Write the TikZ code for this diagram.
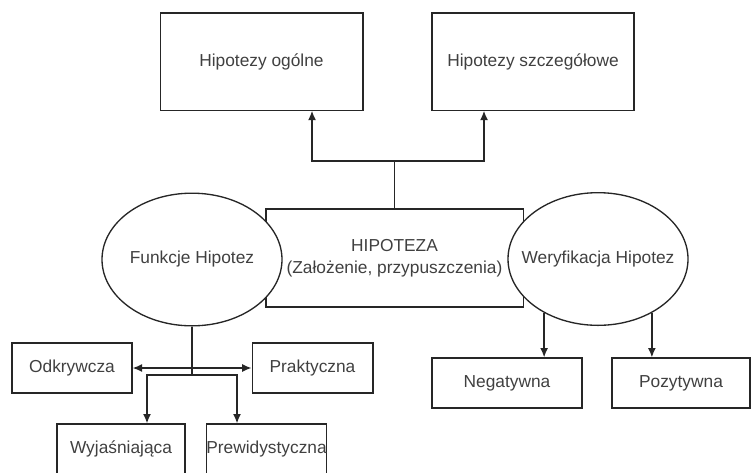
\documentclass[tikz,border=0pt]{standalone}
\usepackage{fontspec}
\setmainfont{Liberation Sans}
\usetikzlibrary{shapes.geometric,arrows.meta}

\begin{document}
\begin{tikzpicture}
  [x=0.75pt,y=-0.75pt,line width=1pt]
      \tikzstyle{box_style} = [draw=black!85, rectangle, inner sep=0pt, text=black!75, font=\fontsize{13}{16.5}\selectfont, align=center]
      \tikzstyle{oval_style} = [box_style, ellipse, fill=white, inner xsep=-25pt, minimum width=135pt, minimum height=99.5pt]
      \tikzstyle{edge_style} = [draw=black!85, line width=1pt]
      \tikzstyle{arrow_style} = [edge_style, -{Latex[length=7pt,width=6pt]}]
  \useasboundingbox (0,0) rectangle (752,472);
  \node[box_style, minimum width=152pt, minimum height=73pt] (ogolne) at (261.5,61.5) {Hipotezy ogólne};
  \node[box_style, minimum width=151.5pt, minimum height=73pt] (szczeg) at (533,61.5) {Hipotezy szczegółowe};
  \node[box_style, minimum width=193pt, minimum height=73.5pt] (hyp) at (394.5,258) {HIPOTEZA\\(Założenie, przypuszczenia)};
  \node[oval_style] (funk) at (192,259.5) {Funkcje Hipotez};
  \node[oval_style] (wer) at (598,259) {Weryfikacja Hipotez};
  \node[box_style, minimum width=90pt, minimum height=37.5pt] (odkr) at (72,368) {Odkrywcza};
  \node[box_style, minimum width=90.5pt, minimum height=37.5pt] (prak) at (312.5,368) {Praktyczna};
  \node[box_style, minimum width=96pt, minimum height=37.5pt] (wyj) at (121,449) {Wyjaśniająca};
  \node[box_style, minimum width=89pt, minimum height=37.5pt] (prew) at (266.5,449) {Prewidystyczna};
  \node[box_style, minimum width=112.5pt, minimum height=37.5pt] (neg) at (507,383) {Negatywna};
  \node[box_style, minimum width=103.5pt, minimum height=37.5pt] (poz) at (681,383) {Pozytywna};
  \coordinate (split) at (394.5,161);
  \coordinate (lbranch) at (312,161);
  \coordinate (rbranch) at (484,161);
  \coordinate (fork) at (192,375);
  \coordinate (ldrop) at (147,375);
  \coordinate (rdrop) at (237,375);
  \draw[edge_style] (hyp.north) -- (split);
  \draw[arrow_style] (split) -- (lbranch) -- (lbranch |- ogolne.south);
  \draw[arrow_style] (split) -- (rbranch) -- (rbranch |- szczeg.south);
  \draw[edge_style] (funk.south) -- (fork);
  \draw[edge_style, {Latex[length=7pt,width=6pt]}-{Latex[length=7pt,width=6pt]}] (odkr.east) -- (prak.west);
  \draw[arrow_style] (fork) -- (ldrop) -- (ldrop |- wyj.north);
  \draw[arrow_style] (fork) -- (rdrop) -- (rdrop |- prew.north);
  \draw[arrow_style] (wer.225) -- (wer.225 |- neg.north);
  \draw[arrow_style] (wer.315) -- (wer.315 |- poz.north);
\end{tikzpicture}
\end{document}
